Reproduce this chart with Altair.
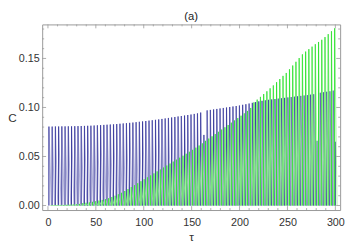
import altair as alt
import pandas as pd

# spike peak heights read per oscillation cycle
blue_peaks = [
    0.0805, 0.0805, 0.0806, 0.0806, 0.0807, 0.0807, 0.0808, 0.0808, 0.0809, 0.0810,
    0.0811, 0.0812, 0.0813, 0.0814, 0.0816, 0.0818, 0.0820, 0.0822, 0.0824, 0.0826,
    0.0828, 0.0831, 0.0834, 0.0837, 0.0840, 0.0843, 0.0846, 0.0850, 0.0854, 0.0858,
    0.0862, 0.0866, 0.0870, 0.0874, 0.0878, 0.0883, 0.0888, 0.0893, 0.0898, 0.0903,
    0.0908, 0.0913, 0.0918, 0.0923, 0.0928, 0.0934, 0.0940, 0.0948, 0.0720, 0.0970,
    0.0975, 0.0980, 0.0985, 0.0990, 0.0995, 0.1000, 0.1005, 0.1010, 0.1015, 0.1020,
    0.1027, 0.1033, 0.1040, 0.1047, 0.1055, 0.1062, 0.1068, 0.1073, 0.1078, 0.1082,
    0.1086, 0.1090, 0.1094, 0.1098, 0.1102, 0.1106, 0.1110, 0.1114, 0.1118, 0.1122,
    0.1126, 0.1130, 0.1135, 0.0660, 0.1150, 0.1155, 0.1160, 0.1165, 0.1172,
]
green_peaks = [
    0.0001, 0.0002, 0.0003, 0.0004, 0.0005, 0.0007, 0.0009, 0.0011, 0.0013, 0.0016,
    0.0025, 0.0028, 0.0032, 0.0038, 0.0044, 0.0050, 0.0057, 0.0065, 0.0075, 0.0087,
    0.0100, 0.0115, 0.0130, 0.0148, 0.0168, 0.0188, 0.0208, 0.0228, 0.0248, 0.0268,
    0.0288, 0.0308, 0.0328, 0.0348, 0.0368, 0.0388, 0.0408, 0.0428, 0.0448, 0.0468,
    0.0488, 0.0508, 0.0528, 0.0548, 0.0568, 0.0590, 0.0612, 0.0634, 0.0660, 0.0683,
    0.0706, 0.0729, 0.0752, 0.0775, 0.0798, 0.0821, 0.0845, 0.0868, 0.0892, 0.0916,
    0.0940, 0.0965, 0.0995, 0.1052, 0.1080, 0.1108, 0.1137, 0.1165, 0.1195, 0.1225,
    0.1258, 0.1290, 0.1322, 0.1352, 0.1390, 0.1428, 0.1466, 0.1504, 0.1542, 0.1570,
    0.1595, 0.1620, 0.1645, 0.1668, 0.1690, 0.1718, 0.1748, 0.1778, 0.1808,
]
blue_start = 1.0
green_start = 2.7
period = 3.37
blue_tail = [(299.6, 0.0), (300.0, 0.065)]

x_major = [0, 50, 100, 150, 200, 250, 300]
x_minor = [v for v in range(0, 301, 10) if v % 50 != 0]
y_major = [0.0, 0.05, 0.10, 0.15]
y_minor = [0.01, 0.02, 0.03, 0.04, 0.06, 0.07, 0.08, 0.09, 0.11, 0.12, 0.13, 0.14, 0.16, 0.17, 0.18]

wave_rows, spike_rows = [], []
def add_series(name, start, peaks):
    i = 0
    for k, p in enumerate(peaks):
        t = start + period * k
        spike_rows.append({"t": t, "c0": 0.0, "c": p, "s": name})
        for tt, cc in [(t, 0.0), (t + 0.12, p), (t + 0.75 * period, 0.0)]:
            wave_rows.append({"t": tt, "c": cc, "s": name, "i": i})
            i += 1
    return i

n = add_series("blue", blue_start, blue_peaks)
for tt, cc in blue_tail:
    wave_rows.append({"t": tt, "c": cc, "s": "blue", "i": n})
    n += 1
spike_rows.append({"t": blue_tail[-1][0], "c0": 0.0, "c": blue_tail[-1][1], "s": "blue"})
add_series("green", green_start, green_peaks)
wave = pd.DataFrame(wave_rows)
spikes = pd.DataFrame(spike_rows)

W, H = 305, 190
xs = alt.Scale(domain=[-6, 305], nice=False, zero=False)
ys = alt.Scale(domain=[-0.0046, 0.1847], nice=False, zero=False)
xaxis = alt.Axis(values=x_major, title="τ", ticks=False, domain=False, grid=False,
                 labelPadding=7, titleX=W / 2, titleY=27, titleBaseline="middle")
yaxis = alt.Axis(values=y_major, format=".2f", title="C", ticks=False, domain=False, grid=False,
                 labelPadding=3, titleAngle=0, titleX=-31, titleY=H / 2,
                 titleAlign="center", titleBaseline="middle")
xenc = alt.X("t:Q", scale=xs, axis=xaxis)
yenc = alt.Y("c:Q", scale=ys, axis=yaxis)

light = alt.Scale(domain=["blue", "green"], range=["#9c9cd2", "#9cf09c"])
dark = alt.Scale(domain=["blue", "green"], range=["#2f2f96", "#22e022"])

def series_layers(name):
    w = alt.Chart(wave).transform_filter(alt.datum.s == name).mark_line(
        strokeWidth=0.8, clip=True).encode(
        x=xenc, y=yenc, color=alt.Color("s:N", scale=light, legend=None), order="i:Q")
    r = alt.Chart(spikes).transform_filter(alt.datum.s == name).mark_rule(
        strokeWidth=0.9, clip=True).encode(
        x=xenc, y=alt.Y("c0:Q", scale=ys, axis=yaxis), y2="c:Q",
        color=alt.Color("s:N", scale=dark, legend=None))
    return [w, r]

tick_color = "#9a9a9a"
xmaj = pd.DataFrame({"t": x_major})
xmin = pd.DataFrame({"t": x_minor})
ymaj = pd.DataFrame({"c": y_major})
ymin = pd.DataFrame({"c": y_minor})

def xticks(d, L):
    b = alt.Chart(d).mark_rule(color=tick_color, strokeWidth=0.8).encode(
        x=xenc, y=alt.value(H), y2=alt.value(H - L))
    t = alt.Chart(d).mark_rule(color=tick_color, strokeWidth=0.8).encode(
        x=xenc, y=alt.value(0), y2=alt.value(L))
    return [b, t]

def yticks(d, L):
    l = alt.Chart(d).mark_rule(color=tick_color, strokeWidth=0.8).encode(
        y=yenc, x=alt.value(0), x2=alt.value(L))
    r = alt.Chart(d).mark_rule(color=tick_color, strokeWidth=0.8).encode(
        y=yenc, x=alt.value(W), x2=alt.value(W - L))
    return [l, r]

title = alt.Chart(pd.DataFrame({"label": ["(a)"]})).mark_text(
    font="Liberation Sans", fontSize=11.5, color="#222", baseline="middle", align="center").encode(
    text="label:N", x=alt.value(W / 2), y=alt.value(-8))

layers = (series_layers("blue") + series_layers("green")
          + xticks(xmaj, 4) + xticks(xmin, 2) + yticks(ymaj, 4) + yticks(ymin, 2) + [title])

chart = alt.layer(*layers).properties(
    width=W, height=H,
    autosize=alt.AutoSizeParams(type="none"),
    padding={"left": 35, "top": 14, "right": 6, "bottom": 34},
).resolve_scale(color="independent").configure_view(stroke="#999999", strokeWidth=1).configure_axis(
    labelFont="Liberation Sans", labelFontSize=11, labelColor="#333",
    titleFont="Liberation Sans", titleFontSize=12, titleColor="#333", titleFontWeight="normal",
)

chart.save("out.html", embed_options={"renderer": "svg", "actions": False})
